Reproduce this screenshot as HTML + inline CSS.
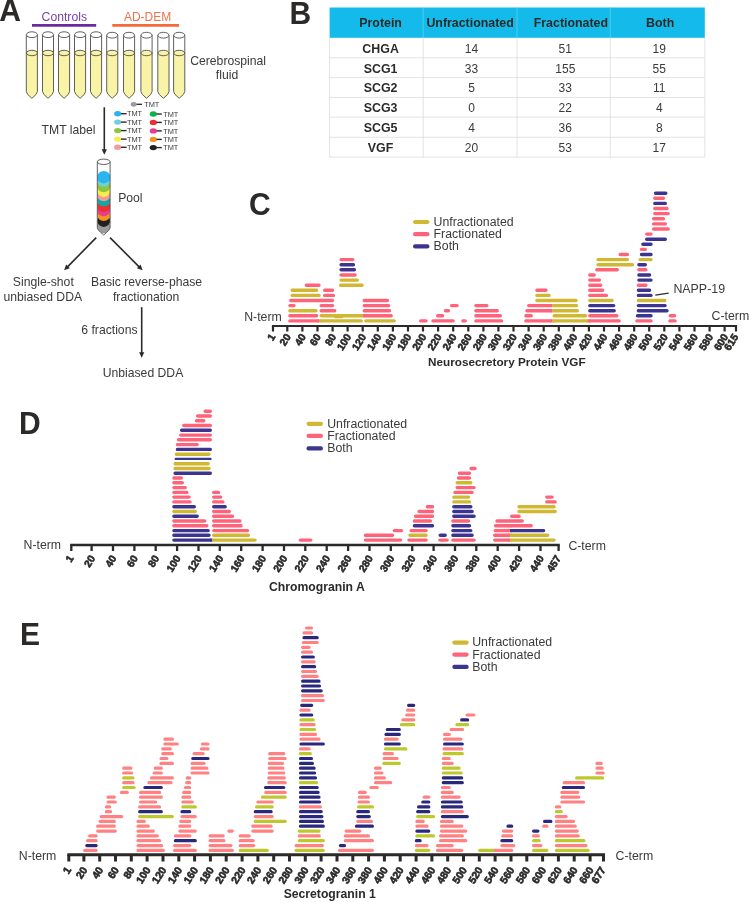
<!DOCTYPE html>
<html lang="en"><head><meta charset="utf-8"><title>Figure</title>
<style>html,body{margin:0;padding:0;background:#fff}body{width:749px;height:902px;overflow:hidden}svg{display:block}text{font-family:"Liberation Sans", Arial, Helvetica, sans-serif}</style>
</head><body>
<svg width="749" height="902" viewBox="0 0 749 902">
<rect width="749" height="902" fill="#fff"/>
<g font-weight="bold" font-size="31" fill="#2b2a29">
<text transform="translate(-0.8 21.2) scale(0.97 1)">A</text>
<text transform="translate(289.5 24.4) scale(0.97 1)">B</text>
<text transform="translate(249.0 215.0) scale(0.97 1)">C</text>
<text transform="translate(18.9 433.6) scale(0.97 1)">D</text>
<text transform="translate(20.1 644.7) scale(0.97 1)">E</text>
</g>
<g font-size="12.2">
<text x="41.6" y="21.2" fill="#7B3FA8">Controls</text>
<text x="123.9" y="21.2" font-size="12" fill="#F37048">AD-DEM</text>
</g>
<path d="M32 25.3H96.2" stroke="#6A2C9C" stroke-width="2.8"/>
<path d="M112.3 25.3H179" stroke="#F7693C" stroke-width="2.8"/>
<path d="M26.3 53.0V91.5Q26.3 94.0 31.9 98.3Q37.4 94.0 37.4 91.5V53.0Z" fill="#F8F3A6"/>
<path d="M26.3 34.7V91.5Q26.3 94.0 31.9 98.3Q37.4 94.0 37.4 91.5V34.7" fill="none" stroke="#4d4d4d" stroke-width="0.9" stroke-linejoin="round"/>
<ellipse cx="31.9" cy="34.7" rx="5.5" ry="2.9" fill="#fff" stroke="#4d4d4d" stroke-width="0.9"/>
<ellipse cx="31.9" cy="53.0" rx="5.5" ry="2.7" fill="#F8F3A6" stroke="#4d4d4d" stroke-width="0.9"/>
<path d="M42.5 53.0V91.5Q42.5 94.0 48.0 98.3Q53.5 94.0 53.5 91.5V53.0Z" fill="#F8F3A6"/>
<path d="M42.5 34.7V91.5Q42.5 94.0 48.0 98.3Q53.5 94.0 53.5 91.5V34.7" fill="none" stroke="#4d4d4d" stroke-width="0.9" stroke-linejoin="round"/>
<ellipse cx="48.0" cy="34.7" rx="5.5" ry="2.9" fill="#fff" stroke="#4d4d4d" stroke-width="0.9"/>
<ellipse cx="48.0" cy="53.0" rx="5.5" ry="2.7" fill="#F8F3A6" stroke="#4d4d4d" stroke-width="0.9"/>
<path d="M58.5 53.0V91.5Q58.5 94.0 64.1 98.3Q69.6 94.0 69.6 91.5V53.0Z" fill="#F8F3A6"/>
<path d="M58.5 34.7V91.5Q58.5 94.0 64.1 98.3Q69.6 94.0 69.6 91.5V34.7" fill="none" stroke="#4d4d4d" stroke-width="0.9" stroke-linejoin="round"/>
<ellipse cx="64.1" cy="34.7" rx="5.5" ry="2.9" fill="#fff" stroke="#4d4d4d" stroke-width="0.9"/>
<ellipse cx="64.1" cy="53.0" rx="5.5" ry="2.7" fill="#F8F3A6" stroke="#4d4d4d" stroke-width="0.9"/>
<path d="M74.5 53.0V91.5Q74.5 94.0 80.1 98.3Q85.6 94.0 85.6 91.5V53.0Z" fill="#F8F3A6"/>
<path d="M74.5 34.7V91.5Q74.5 94.0 80.1 98.3Q85.6 94.0 85.6 91.5V34.7" fill="none" stroke="#4d4d4d" stroke-width="0.9" stroke-linejoin="round"/>
<ellipse cx="80.1" cy="34.7" rx="5.5" ry="2.9" fill="#fff" stroke="#4d4d4d" stroke-width="0.9"/>
<ellipse cx="80.1" cy="53.0" rx="5.5" ry="2.7" fill="#F8F3A6" stroke="#4d4d4d" stroke-width="0.9"/>
<path d="M90.5 53.0V91.5Q90.5 94.0 96.1 98.3Q101.6 94.0 101.6 91.5V53.0Z" fill="#F8F3A6"/>
<path d="M90.5 34.7V91.5Q90.5 94.0 96.1 98.3Q101.6 94.0 101.6 91.5V34.7" fill="none" stroke="#4d4d4d" stroke-width="0.9" stroke-linejoin="round"/>
<ellipse cx="96.1" cy="34.7" rx="5.5" ry="2.9" fill="#fff" stroke="#4d4d4d" stroke-width="0.9"/>
<ellipse cx="96.1" cy="53.0" rx="5.5" ry="2.7" fill="#F8F3A6" stroke="#4d4d4d" stroke-width="0.9"/>
<path d="M106.7 53.0V91.5Q106.7 94.0 112.2 98.3Q117.8 94.0 117.8 91.5V53.0Z" fill="#F8F3A6"/>
<path d="M106.7 35.2V91.5Q106.7 94.0 112.2 98.3Q117.8 94.0 117.8 91.5V35.2" fill="none" stroke="#4d4d4d" stroke-width="0.9" stroke-linejoin="round"/>
<ellipse cx="112.2" cy="35.2" rx="5.5" ry="2.9" fill="#fff" stroke="#4d4d4d" stroke-width="0.9"/>
<ellipse cx="112.2" cy="53.0" rx="5.5" ry="2.7" fill="#F8F3A6" stroke="#4d4d4d" stroke-width="0.9"/>
<path d="M123.5 53.0V91.5Q123.5 94.0 129.0 98.3Q134.6 94.0 134.6 91.5V53.0Z" fill="#F8F3A6"/>
<path d="M123.5 35.2V91.5Q123.5 94.0 129.0 98.3Q134.6 94.0 134.6 91.5V35.2" fill="none" stroke="#4d4d4d" stroke-width="0.9" stroke-linejoin="round"/>
<ellipse cx="129.0" cy="35.2" rx="5.5" ry="2.9" fill="#fff" stroke="#4d4d4d" stroke-width="0.9"/>
<ellipse cx="129.0" cy="53.0" rx="5.5" ry="2.7" fill="#F8F3A6" stroke="#4d4d4d" stroke-width="0.9"/>
<path d="M140.9 53.0V91.5Q140.9 94.0 146.5 98.3Q152.1 94.0 152.1 91.5V53.0Z" fill="#F8F3A6"/>
<path d="M140.9 35.2V91.5Q140.9 94.0 146.5 98.3Q152.1 94.0 152.1 91.5V35.2" fill="none" stroke="#4d4d4d" stroke-width="0.9" stroke-linejoin="round"/>
<ellipse cx="146.5" cy="35.2" rx="5.5" ry="2.9" fill="#fff" stroke="#4d4d4d" stroke-width="0.9"/>
<ellipse cx="146.5" cy="53.0" rx="5.5" ry="2.7" fill="#F8F3A6" stroke="#4d4d4d" stroke-width="0.9"/>
<path d="M157.8 53.0V91.5Q157.8 94.0 163.4 98.3Q169.0 94.0 169.0 91.5V53.0Z" fill="#F8F3A6"/>
<path d="M157.8 35.2V91.5Q157.8 94.0 163.4 98.3Q169.0 94.0 169.0 91.5V35.2" fill="none" stroke="#4d4d4d" stroke-width="0.9" stroke-linejoin="round"/>
<ellipse cx="163.4" cy="35.2" rx="5.5" ry="2.9" fill="#fff" stroke="#4d4d4d" stroke-width="0.9"/>
<ellipse cx="163.4" cy="53.0" rx="5.5" ry="2.7" fill="#F8F3A6" stroke="#4d4d4d" stroke-width="0.9"/>
<path d="M173.6 53.0V91.5Q173.6 94.0 179.2 98.3Q184.8 94.0 184.8 91.5V53.0Z" fill="#F8F3A6"/>
<path d="M173.6 35.2V91.5Q173.6 94.0 179.2 98.3Q184.8 94.0 184.8 91.5V35.2" fill="none" stroke="#4d4d4d" stroke-width="0.9" stroke-linejoin="round"/>
<ellipse cx="179.2" cy="35.2" rx="5.5" ry="2.9" fill="#fff" stroke="#4d4d4d" stroke-width="0.9"/>
<ellipse cx="179.2" cy="53.0" rx="5.5" ry="2.7" fill="#F8F3A6" stroke="#4d4d4d" stroke-width="0.9"/>
<g font-size="12.2" fill="#3b3a3a">
<text x="190.2" y="65.3">Cerebrospinal</text>
<text x="215.8" y="79.3">fluid</text>
<text x="41.6" y="133.8">TMT label</text>
<text x="118.2" y="201.9">Pool</text>
<text x="43.3" y="285.7" text-anchor="middle">Single-shot</text>
<text x="42.8" y="300.8" text-anchor="middle">unbiased DDA</text>
<text x="146.6" y="285.7" text-anchor="middle">Basic reverse-phase</text>
<text x="146.2" y="300.8" text-anchor="middle">fractionation</text>
<text x="81.3" y="333.8">6 fractions</text>
<text x="143" y="377" text-anchor="middle">Unbiased DDA</text>
</g>
<path d="M104.3 107.3L104.3 150.3" stroke="#2b2a29" stroke-width="1.6"/>
<path d="M104.3 154.8L101.7 149.3L106.9 149.3Z" fill="#2b2a29"/>
<path d="M96.2 237.6L67.3 267.1" stroke="#2b2a29" stroke-width="1.6"/>
<path d="M64.1 270.3L66.1 264.6L69.8 268.2Z" fill="#2b2a29"/>
<path d="M110.0 237.6L139.4 267.1" stroke="#2b2a29" stroke-width="1.6"/>
<path d="M142.6 270.3L136.9 268.2L140.6 264.6Z" fill="#2b2a29"/>
<path d="M141.7 307.2L141.7 353.3" stroke="#2b2a29" stroke-width="1.6"/>
<path d="M141.7 357.8L139.1 352.3L144.3 352.3Z" fill="#2b2a29"/>
<ellipse cx="133.7" cy="104.3" rx="3" ry="2.4" fill="#9B9B9B"/>
<path d="M136.5 104.3H142" stroke="#2b2a29" stroke-width="1.3"/>
<g font-size="7.4" fill="#3b3a3a">
<text x="144.2" y="106.9">TMT</text>
<ellipse cx="117.7" cy="113.7" rx="3.6" ry="2.7" fill="#29B6F0"/>
<path d="M121 113.7H126.6" stroke="#2b2a29" stroke-width="1.4"/>
<text x="126.9" y="116.3">TMT</text>
<ellipse cx="117.7" cy="122.1" rx="3.6" ry="2.7" fill="#6FD0D8"/>
<path d="M121 122.1H126.6" stroke="#2b2a29" stroke-width="1.4"/>
<text x="126.9" y="124.7">TMT</text>
<ellipse cx="117.7" cy="130.6" rx="3.6" ry="2.7" fill="#8CC63F"/>
<path d="M121 130.6H126.6" stroke="#2b2a29" stroke-width="1.4"/>
<text x="126.9" y="133.2">TMT</text>
<ellipse cx="117.7" cy="139.1" rx="3.6" ry="2.7" fill="#F9ED4B"/>
<path d="M121 139.1H126.6" stroke="#2b2a29" stroke-width="1.4"/>
<text x="126.9" y="141.7">TMT</text>
<ellipse cx="117.7" cy="147.3" rx="3.6" ry="2.7" fill="#F59A9B"/>
<path d="M121 147.3H126.6" stroke="#2b2a29" stroke-width="1.4"/>
<text x="126.9" y="149.9">TMT</text>
<ellipse cx="153.3" cy="114.0" rx="3.6" ry="2.7" fill="#0DB14B"/>
<path d="M156.5 114.0H161.8" stroke="#2b2a29" stroke-width="1.4"/>
<text x="163.2" y="116.6">TMT</text>
<ellipse cx="153.3" cy="122.4" rx="3.6" ry="2.7" fill="#EE2E2F"/>
<path d="M156.5 122.4H161.8" stroke="#2b2a29" stroke-width="1.4"/>
<text x="163.2" y="125.0">TMT</text>
<ellipse cx="153.3" cy="130.9" rx="3.6" ry="2.7" fill="#EC3A8E"/>
<path d="M156.5 130.9H161.8" stroke="#2b2a29" stroke-width="1.4"/>
<text x="163.2" y="133.5">TMT</text>
<ellipse cx="153.3" cy="139.4" rx="3.6" ry="2.7" fill="#F7941D"/>
<path d="M156.5 139.4H161.8" stroke="#2b2a29" stroke-width="1.4"/>
<text x="163.2" y="142.0">TMT</text>
<ellipse cx="153.3" cy="147.6" rx="3.6" ry="2.7" fill="#231F20"/>
<path d="M156.5 147.6H161.8" stroke="#2b2a29" stroke-width="1.4"/>
<text x="163.2" y="150.2">TMT</text>
</g>
<clipPath id="pc"><path d="M97.3 161.8V227.5Q97.3 230 103.7 234.9Q110.1 230 110.1 227.5V161.8Z"/></clipPath>
<g clip-path="url(#pc)">
<ellipse cx="103.7" cy="227" rx="6.6" ry="6.3" fill="#9B9B9B"/>
<ellipse cx="103.7" cy="220.7" rx="6.6" ry="6.2" fill="#231F20"/>
<ellipse cx="103.7" cy="214.8" rx="6.6" ry="6.2" fill="#F7941D"/>
<ellipse cx="103.7" cy="210.0" rx="6.6" ry="6.2" fill="#EC3A8E"/>
<ellipse cx="103.7" cy="205.8" rx="6.6" ry="6.2" fill="#EE2E2F"/>
<ellipse cx="103.7" cy="200.4" rx="6.6" ry="6.2" fill="#12A89D"/>
<ellipse cx="103.7" cy="195.1" rx="6.6" ry="6.2" fill="#F59A9B"/>
<ellipse cx="103.7" cy="190.8" rx="6.6" ry="6.2" fill="#F9ED4B"/>
<ellipse cx="103.7" cy="186.0" rx="6.6" ry="6.2" fill="#8CC63F"/>
<ellipse cx="103.7" cy="180.7" rx="6.6" ry="6.2" fill="#6FD0D8"/>
<ellipse cx="103.7" cy="177.2" rx="6.6" ry="6.2" fill="#29B6F0"/>
</g>
<path d="M97.3 161.8V227.5Q97.3 230 103.7 234.9Q110.1 230 110.1 227.5V161.8" fill="none" stroke="#4d4d4d" stroke-width="0.9" stroke-linejoin="round"/>
<ellipse cx="103.7" cy="161.8" rx="6.4" ry="2.7" fill="#fff" stroke="#4d4d4d" stroke-width="0.9"/>
<rect x="329.6" y="7.5" width="375.2" height="30.3" fill="#14BBEA"/>
<path d="M423.2 7.5V37.8M517.0 7.5V37.8M610.3 7.5V37.8" stroke="#5CCFF0" stroke-width="0.8"/>
<path d="M329.6 57.8H704.8M329.6 77.6H704.8M329.6 97.4H704.8M329.6 117.2H704.8M329.6 137.3H704.8M329.6 157.1H704.8M329.6 37.8V157.1M423.2 37.8V157.1M517.0 37.8V157.1M610.3 37.8V157.1M704.8 37.8V157.1" stroke="#DADCDD" stroke-width="0.8" fill="none"/>
<g font-size="12.4" text-anchor="middle" fill="#2b2a29">
<g font-weight="bold">
<text x="380.6" y="26.8">Protein</text>
<text x="470.1" y="26.8">Unfractionated</text>
<text x="570.9" y="26.8">Fractionated</text>
<text x="660.1" y="26.8">Both</text>
<text x="380.6" y="52.7">CHGA</text>
<text x="380.6" y="72.6">SCG1</text>
<text x="380.6" y="92.4">SCG2</text>
<text x="380.6" y="112.2">SCG3</text>
<text x="380.6" y="132.2">SCG5</text>
<text x="380.6" y="152.1">VGF</text>
</g>
<g fill="#3b3a3a" font-size="12">
<text x="471.5" y="52.7">14</text>
<text x="565.3" y="52.7">51</text>
<text x="659.3" y="52.7">19</text>
<text x="471.5" y="72.6">33</text>
<text x="565.3" y="72.6">155</text>
<text x="659.3" y="72.6">55</text>
<text x="471.5" y="92.4">5</text>
<text x="565.3" y="92.4">33</text>
<text x="659.3" y="92.4">11</text>
<text x="471.5" y="112.2">0</text>
<text x="565.3" y="112.2">22</text>
<text x="659.3" y="112.2">4</text>
<text x="471.5" y="132.2">4</text>
<text x="565.3" y="132.2">36</text>
<text x="659.3" y="132.2">8</text>
<text x="471.5" y="152.1">20</text>
<text x="565.3" y="152.1">53</text>
<text x="659.3" y="152.1">17</text>
</g></g>
<path d="M289.9 320.9H317.8M289.9 315.8H316.6M364.6 315.8H391.2M321.2 310.7H334.8M364.2 310.7H389.5M289.9 305.6H294.0M321.2 305.6H332.5M364.2 305.6H388.6M290.8 300.5H318.6M322.0 300.5H332.5M364.2 300.5H387.4M324.7 295.4H333.4M324.7 290.3H332.5M306.4 285.2H319.0M341.1 275.0H355.1M341.1 259.6H352.8M420.7 320.9H426.0M433.0 320.9H453.1M462.9 320.9H465.2M475.9 320.9H501.5M437.7 315.8H442.6M475.9 315.8H500.3M445.5 310.7H448.5M475.9 310.7H497.3M451.6 305.6H457.1M475.9 305.6H486.9M525.9 320.9H550.8M589.8 320.9H619.1M525.9 315.8H531.2M589.8 315.8H616.8M527.0 310.7H550.8M528.7 305.6H550.8M589.8 295.4H606.4M536.9 290.3H546.0M589.8 290.3H602.6M589.8 285.2H600.7M589.8 280.1H599.4M589.8 275.0H594.2M596.8 269.8H617.3M620.2 254.5H627.4M636.9 320.9H651.0M669.9 320.9H675.1M670.3 315.8H674.6M638.4 285.2H645.9M638.9 269.8H645.9M641.5 249.4H645.3M646.7 234.1H651.0M653.6 229.0H668.2M653.6 223.9H665.3M653.6 218.8H663.4M654.8 213.6H668.2M654.8 208.5H667.0M654.8 198.3H663.4" stroke="#FF6379" stroke-width="3.4" stroke-linecap="round" fill="none"/>
<path d="M321.2 320.9H361.2M365.8 320.9H394.2M321.2 315.8H361.2M289.9 310.7H316.0M292.2 295.4H319.0M292.2 290.3H316.6M340.6 285.2H362.1M341.1 280.1H357.4M554.2 320.9H586.4M554.2 315.8H585.6M554.2 310.7H577.4M554.2 305.6H576.5M536.9 300.5H576.0M589.8 300.5H612.1M536.9 295.4H549.1M598.0 264.7H632.4M598.0 259.6H627.4M638.4 300.5H664.8M640.1 259.6H651.0M335.4 316.6H342.0" stroke="#D0B832" stroke-width="3.4" stroke-linecap="round" fill="none"/>
<path d="M341.1 269.8H354.4M341.1 264.7H353.4M589.8 310.7H614.2M589.8 305.6H613.7M637.5 315.8H651.0M638.4 310.7H667.0M638.4 305.6H665.1M638.4 295.4H651.0M638.4 290.3H649.6M638.9 280.1H651.0M638.9 275.0H649.6M638.9 264.7H645.3M641.5 254.5H651.0M642.9 244.3H651.0M646.7 239.2H665.3M654.8 203.4H665.3M655.6 193.2H665.8" stroke="#3B3490" stroke-width="3.4" stroke-linecap="round" fill="none"/>
<path d="M317.6 320.9H319.5M362.9 315.8H364.8M318.4 300.5H320.3M320.3 300.5H322.2M550.6 320.9H552.5M588.1 320.9H590.0M550.6 310.7H552.5M550.6 305.6H552.5" stroke="#FF6379" stroke-width="3.4" fill="none"/>
<path d="M319.5 320.9H321.4M361.0 315.8H362.9M552.5 320.9H554.4M586.2 320.9H588.1M552.5 310.7H554.4M552.5 305.6H554.4" stroke="#D0B832" stroke-width="3.4" fill="none"/>
<path d="M271.9 325.9H737.1" stroke="#2b2a29" stroke-width="2.0" fill="none"/>
<path d="M273.0 325.9V331.6M287.3 325.9V331.6M302.4 325.9V331.6M317.5 325.9V331.6M332.6 325.9V331.6M347.6 325.9V331.6M362.7 325.9V331.6M377.8 325.9V331.6M392.9 325.9V331.6M408.0 325.9V331.6M423.0 325.9V331.6M438.1 325.9V331.6M453.2 325.9V331.6M468.3 325.9V331.6M483.4 325.9V331.6M498.4 325.9V331.6M513.5 325.9V331.6M528.6 325.9V331.6M543.7 325.9V331.6M558.8 325.9V331.6M573.8 325.9V331.6M588.9 325.9V331.6M604.0 325.9V331.6M619.1 325.9V331.6M634.2 325.9V331.6M649.2 325.9V331.6M664.3 325.9V331.6M679.4 325.9V331.6M694.5 325.9V331.6M709.6 325.9V331.6M724.6 325.9V331.6M736.0 325.9V331.6" stroke="#2b2a29" stroke-width="2.2" fill="none"/>
<g font-weight="bold" font-size="10.3" fill="#2b2a29" stroke="#2b2a29" stroke-width="0.6" stroke-linejoin="round" text-anchor="end">
<text transform="translate(275.8 336.7) rotate(-58)">1</text>
<text transform="translate(291.2 336.7) rotate(-58)">20</text>
<text transform="translate(306.3 336.7) rotate(-58)">40</text>
<text transform="translate(321.4 336.7) rotate(-58)">60</text>
<text transform="translate(336.5 336.7) rotate(-58)">80</text>
<text transform="translate(351.5 336.7) rotate(-58)">100</text>
<text transform="translate(366.6 336.7) rotate(-58)">120</text>
<text transform="translate(381.7 336.7) rotate(-58)">140</text>
<text transform="translate(396.8 336.7) rotate(-58)">160</text>
<text transform="translate(411.9 336.7) rotate(-58)">180</text>
<text transform="translate(426.9 336.7) rotate(-58)">200</text>
<text transform="translate(442.0 336.7) rotate(-58)">220</text>
<text transform="translate(457.1 336.7) rotate(-58)">240</text>
<text transform="translate(472.2 336.7) rotate(-58)">260</text>
<text transform="translate(487.3 336.7) rotate(-58)">280</text>
<text transform="translate(502.3 336.7) rotate(-58)">300</text>
<text transform="translate(517.4 336.7) rotate(-58)">320</text>
<text transform="translate(532.5 336.7) rotate(-58)">340</text>
<text transform="translate(547.6 336.7) rotate(-58)">360</text>
<text transform="translate(562.7 336.7) rotate(-58)">380</text>
<text transform="translate(577.7 336.7) rotate(-58)">400</text>
<text transform="translate(592.8 336.7) rotate(-58)">420</text>
<text transform="translate(607.9 336.7) rotate(-58)">440</text>
<text transform="translate(623.0 336.7) rotate(-58)">460</text>
<text transform="translate(638.1 336.7) rotate(-58)">480</text>
<text transform="translate(653.1 336.7) rotate(-58)">500</text>
<text transform="translate(668.2 336.7) rotate(-58)">520</text>
<text transform="translate(683.3 336.7) rotate(-58)">540</text>
<text transform="translate(698.4 336.7) rotate(-58)">560</text>
<text transform="translate(713.5 336.7) rotate(-58)">580</text>
<text transform="translate(728.5 336.7) rotate(-58)">600</text>
<text transform="translate(738.7 336.7) rotate(-58)">615</text>
</g>
<g font-size="12.3" fill="#3b3a3a">
<text x="244.2" y="320.7">N-term</text>
<text x="711.6" y="320.3">C-term</text>
<text x="673.4" y="292.6" font-size="12.4">NAPP-19</text>
</g>
<path d="M655.3 295.2L668.7 293.2" stroke="#2b2a29" stroke-width="1.2"/>
<text x="506.85" y="365.7" font-size="11.72" font-weight="bold" text-anchor="middle" fill="#2b2a29">Neurosecretory Protein VGF</text>
<path d="M173.9 540.1H210.3M173.9 535.3H209.0M173.9 530.6H208.2M173.9 516.2H197.2M173.9 506.7H194.3M213.7 506.7H225.2M175.1 473.2H210.3M177.4 449.4H210.3M181.6 430.3H210.3M440.2 535.3H445.2M452.9 535.3H472.1M452.9 530.6H470.8M414.4 525.8H432.5M452.9 525.8H469.5M453.8 516.2H474.1M453.8 511.5H472.1M453.8 506.7H470.8M511.7 530.6H543.7" stroke="#3B3490" stroke-width="3.4" stroke-linecap="round" fill="none"/>
<path d="M213.7 540.1H255.0M213.7 535.3H248.4M173.9 511.5H195.2M175.1 468.5H209.0M175.1 463.7H208.2M176.3 454.2H209.0M410.0 535.3H426.1M453.8 501.9H469.5M453.8 497.1H468.6M457.2 482.8H470.8M511.7 540.1H554.1M511.7 535.3H547.7M519.0 511.5H555.2M519.0 506.7H554.1" stroke="#D0B832" stroke-width="3.4" stroke-linecap="round" fill="none"/>
<path d="M213.7 530.6H247.6M173.9 525.8H206.8M213.7 525.8H241.1M173.9 521.0H204.7M213.7 521.0H239.9M213.7 516.2H232.5M213.7 511.5H229.3M173.9 501.9H190.0M213.7 501.9H222.9M173.9 497.1H189.1M213.7 497.1H220.7M173.9 492.4H186.8M213.7 492.4H218.6M173.9 487.6H185.3M173.9 482.8H182.3M173.9 478.0H181.3M177.4 444.6H197.2M178.6 439.8H210.3M180.7 435.1H210.3M183.8 425.5H210.3M196.5 420.7H203.8M197.7 416.0H210.3M205.2 411.2H210.3M300.3 540.1H310.8M365.4 540.1H400.5M365.4 535.3H392.5M394.3 530.6H401.5M409.0 540.1H426.1M439.9 540.1H447.2M452.9 540.1H474.1M411.2 530.6H426.1M414.4 521.0H430.4M452.9 521.0H468.6M415.6 516.2H432.5M419.1 511.5H432.5M427.4 506.7H432.5M455.0 492.4H472.1M457.2 487.6H474.1M458.5 478.0H469.5M459.5 473.2H469.5M471.1 468.5H475.0M494.7 540.1H508.3M494.7 535.3H508.3M495.2 530.6H508.3M495.6 525.8H508.3M511.7 525.8H531.2M497.0 521.0H522.2M511.7 516.2H519.1M546.8 501.9H555.2M546.8 497.1H552.1" stroke="#FF6379" stroke-width="3.4" stroke-linecap="round" fill="none"/>
<path d="M175.8 458.9H210.4" stroke="#3B3490" stroke-width="2.4" stroke-linecap="round" fill="none"/>
<path d="M210.1 540.1H212.0M510.0 530.6H511.9" stroke="#3B3490" stroke-width="3.4" fill="none"/>
<path d="M212.0 540.1H213.9M510.0 540.1H511.9M510.0 535.3H511.9" stroke="#D0B832" stroke-width="3.4" fill="none"/>
<path d="M508.1 540.1H510.0M508.1 535.3H510.0M508.1 530.6H510.0M508.1 525.8H510.0M510.0 525.8H511.9" stroke="#FF6379" stroke-width="3.4" fill="none"/>
<path d="M70.1 545.0H559.8" stroke="#2b2a29" stroke-width="2.3" fill="none"/>
<path d="M71.3 545.0V550.9M91.6 545.0V550.9M113.0 545.0V550.9M134.4 545.0V550.9M155.7 545.0V550.9M177.1 545.0V550.9M198.5 545.0V550.9M219.8 545.0V550.9M241.2 545.0V550.9M262.6 545.0V550.9M284.0 545.0V550.9M305.3 545.0V550.9M326.7 545.0V550.9M348.1 545.0V550.9M369.5 545.0V550.9M390.8 545.0V550.9M412.2 545.0V550.9M433.6 545.0V550.9M455.0 545.0V550.9M476.3 545.0V550.9M497.7 545.0V550.9M519.1 545.0V550.9M540.5 545.0V550.9M558.6 545.0V550.9" stroke="#2b2a29" stroke-width="2.3" fill="none"/>
<g font-weight="bold" font-size="10.3" fill="#2b2a29" stroke="#2b2a29" stroke-width="0.6" stroke-linejoin="round" text-anchor="end">
<text transform="translate(74.1 558.2) rotate(-58)">1</text>
<text transform="translate(95.5 558.2) rotate(-58)">20</text>
<text transform="translate(116.9 558.2) rotate(-58)">40</text>
<text transform="translate(138.3 558.2) rotate(-58)">60</text>
<text transform="translate(159.6 558.2) rotate(-58)">80</text>
<text transform="translate(181.0 558.2) rotate(-58)">100</text>
<text transform="translate(202.4 558.2) rotate(-58)">120</text>
<text transform="translate(223.7 558.2) rotate(-58)">140</text>
<text transform="translate(245.1 558.2) rotate(-58)">160</text>
<text transform="translate(266.5 558.2) rotate(-58)">180</text>
<text transform="translate(287.9 558.2) rotate(-58)">200</text>
<text transform="translate(309.2 558.2) rotate(-58)">220</text>
<text transform="translate(330.6 558.2) rotate(-58)">240</text>
<text transform="translate(352.0 558.2) rotate(-58)">260</text>
<text transform="translate(373.4 558.2) rotate(-58)">280</text>
<text transform="translate(394.7 558.2) rotate(-58)">300</text>
<text transform="translate(416.1 558.2) rotate(-58)">320</text>
<text transform="translate(437.5 558.2) rotate(-58)">340</text>
<text transform="translate(458.9 558.2) rotate(-58)">360</text>
<text transform="translate(480.2 558.2) rotate(-58)">380</text>
<text transform="translate(501.6 558.2) rotate(-58)">400</text>
<text transform="translate(523.0 558.2) rotate(-58)">420</text>
<text transform="translate(544.4 558.2) rotate(-58)">440</text>
<text transform="translate(561.3 558.2) rotate(-58)">457</text>
</g>
<g font-size="12.3" fill="#3b3a3a">
<text x="23.5" y="549.2">N-term</text>
<text x="568.4" y="549.5">C-term</text>
</g>
<text x="316.9" y="590.9" font-size="12.2" font-weight="bold" text-anchor="middle" fill="#2b2a29">Chromogranin A</text>
<path d="M84.7 850.4H96.1M138.0 850.4H163.4M138.0 845.6H161.7M87.6 840.7H96.1M138.0 840.7H159.6M89.7 835.9H96.1M138.0 835.9H157.3M97.7 831.1H115.3M138.0 831.1H153.3M97.7 826.2H114.3M138.0 826.2H148.3M100.1 821.4H114.3M138.0 821.4H144.3M101.2 816.6H121.7M106.4 811.7H110.5M106.4 806.9H109.6M139.7 806.9H159.6M108.1 802.0H115.3M140.6 802.0H155.6M108.1 797.2H114.3M140.6 797.2H161.3M121.5 792.4H127.3M140.6 792.4H159.6M123.7 782.7H133.0M148.9 782.7H170.9M151.5 777.9H172.4M123.7 773.0H131.6M154.1 773.0H161.3M123.7 768.2H130.9M155.3 768.2H161.3M161.0 763.4H172.4M161.0 758.5H166.9M162.8 753.7H172.4M162.8 748.9H170.3M164.9 744.0H177.3M164.9 739.2H172.4M174.6 850.4H195.3M210.1 850.4H232.3M174.6 845.6H189.7M210.1 845.6H230.9M240.2 845.6H253.8M210.1 840.7H223.9M240.2 840.7H253.1M175.4 835.9H189.7M210.1 835.9H223.1M240.2 835.9H249.1M179.9 831.1H195.3M228.9 831.1H232.3M252.8 831.1H272.2M179.9 826.2H189.7M252.8 826.2H271.1M180.8 821.4H189.7M182.0 816.6H195.3M255.3 816.6H272.2M182.9 802.0H192.2M257.9 802.0H272.2M182.9 797.2H189.7M183.7 792.4H189.7M265.8 792.4H285.2M185.5 787.5H189.7M186.7 782.7H189.7M268.8 782.7H285.2M187.2 777.9H189.7M268.8 777.9H284.3M192.1 773.0H208.0M269.3 773.0H283.8M192.1 768.2H206.9M269.3 768.2H282.9M192.1 763.4H204.0M269.3 763.4H282.4M269.7 758.5H285.2M194.2 753.7H203.1M269.7 753.7H283.8M201.5 748.9H208.0M202.3 744.0H208.0M339.5 850.4H372.4M296.1 845.6H322.4M345.3 840.7H372.4M299.3 835.9H319.3M345.3 835.9H368.4M346.1 831.1H359.8M357.8 821.4H371.4M300.5 806.9H320.4M359.1 802.0H368.4M359.5 797.2H368.4M359.5 792.4H365.3M370.8 787.5H377.3M375.5 782.7H390.7M375.5 777.9H384.4M375.5 773.0H382.0M375.5 768.2H380.2M384.1 758.5H397.1M384.1 753.7H392.4M300.5 748.9H309.1M301.0 739.2H319.0M385.5 739.2H397.1M301.0 734.4H315.5M301.0 724.7H314.1M402.9 719.9H413.7M406.7 715.0H413.7M301.0 710.2H309.1M407.6 710.2H413.7M302.6 700.5H323.3M302.6 695.7H322.4M302.6 676.3H317.2M302.6 671.5H315.5M302.6 661.8H314.1M302.6 652.2H311.5M302.6 647.3H309.1M303.4 642.5H317.2M304.0 632.8H311.5M306.6 628.0H311.5M437.5 850.4H461.7M495.7 850.4H511.7M416.4 845.6H427.0M437.5 845.6H452.2M501.9 845.6H513.8M440.6 840.7H465.7M440.6 835.9H462.3M502.8 835.9H511.7M441.5 831.1H465.7M503.5 831.1H511.7M416.9 826.2H427.0M441.5 826.2H461.7M416.9 821.4H423.2M441.5 821.4H452.2M442.4 811.7H462.3M424.2 797.2H428.8M442.4 797.2H459.1M442.4 792.4H452.2M442.4 787.5H449.3M443.3 763.4H452.2M443.3 758.5H449.3M444.1 748.9H461.7M444.6 739.2H460.9M444.6 734.4H449.3M451.1 729.5H462.6M467.0 715.0H473.8M533.6 845.6H540.9M556.4 845.6H586.0M533.6 835.9H538.3M556.4 835.9H578.2M556.4 831.1H577.3M543.7 826.2H546.9M556.4 826.2H575.2M556.4 821.4H573.5M556.4 816.6H566.2M556.4 806.9H559.8M561.9 802.0H583.5M561.9 797.2H578.7M561.9 792.4H577.8M564.2 782.7H583.5M597.0 773.0H603.2M597.0 768.2H602.1M597.0 763.4H601.2" stroke="#FF8182" stroke-width="3.2" stroke-linecap="round" fill="none"/>
<path d="M86.8 845.6H96.1M139.7 811.7H161.3M144.9 787.5H161.3M175.4 840.7H195.3M182.0 811.7H189.7M255.3 811.7H271.1M265.5 787.5H283.8M192.8 758.5H208.0M340.4 845.6H344.5M300.5 826.2H323.3M356.5 826.2H372.4M300.5 821.4H322.4M300.5 816.6H321.9M357.8 816.6H369.3M300.5 811.7H321.2M357.8 811.7H368.4M300.5 802.0H319.5M300.5 797.2H319.0M300.5 792.4H318.1M300.5 787.5H317.2M300.5 777.9H315.5M300.5 773.0H314.6M300.5 768.2H314.1M300.5 763.4H312.4M300.5 758.5H311.5M301.0 744.0H323.3M385.5 744.0H399.3M386.0 734.4H399.3M387.3 729.5H399.3M301.0 715.0H311.7M301.7 705.3H311.7M408.6 705.3H413.7M302.6 690.8H321.2M302.6 686.0H319.5M302.6 681.2H319.0M302.6 666.7H314.6M302.6 657.0H313.3M304.0 637.7H317.2M416.4 840.7H420.1M501.9 840.7H511.7M416.9 831.1H428.8M508.0 826.2H511.7M442.4 816.6H467.3M417.7 811.7H428.8M418.6 806.9H428.8M442.4 806.9H461.7M422.8 802.0H428.8M442.4 802.0H461.2M443.3 782.7H462.3M443.3 777.9H461.7M444.6 744.0H462.3M461.7 719.9H467.6M533.6 831.1H537.9M544.6 821.4H550.9M563.3 787.5H583.5" stroke="#28287D" stroke-width="3.2" stroke-linecap="round" fill="none"/>
<path d="M139.7 816.6H172.4M123.7 787.5H134.2M123.7 777.9H133.0M240.2 850.4H267.3M255.3 821.4H285.2M182.9 806.9H195.3M256.6 806.9H272.2M262.4 797.2H285.2M296.1 850.4H323.3M299.3 840.7H323.3M299.3 831.1H319.0M358.6 806.9H372.4M300.5 782.7H316.4M383.8 763.4H399.3M300.5 753.7H310.3M385.5 748.9H405.8M301.0 729.5H314.6M401.5 724.7H413.7M301.0 719.9H313.3M416.4 850.4H428.8M479.7 850.4H492.5M416.9 835.9H433.5M417.7 816.6H433.5M443.3 773.0H461.2M443.3 768.2H459.1M444.1 753.7H462.3M456.9 724.7H467.6M533.6 850.4H546.9M556.4 850.4H588.2M533.6 840.7H539.1M556.4 840.7H583.9M556.4 811.7H561.3M576.7 777.9H602.6" stroke="#BEC82C" stroke-width="3.2" stroke-linecap="round" fill="none"/>
<path d="M492.3 850.4H494.1" stroke="#BEC82C" stroke-width="3.2" fill="none"/>
<path d="M494.1 850.4H495.9" stroke="#FF8182" stroke-width="3.2" fill="none"/>
<path d="M67.3 854.8H605.0" stroke="#2b2a29" stroke-width="3.1" fill="none"/>
<path d="M68.8 854.8V861.4M83.9 854.8V861.4M99.7 854.8V861.4M115.5 854.8V861.4M131.3 854.8V861.4M147.1 854.8V861.4M163.0 854.8V861.4M178.8 854.8V861.4M194.6 854.8V861.4M210.4 854.8V861.4M226.2 854.8V861.4M242.1 854.8V861.4M257.9 854.8V861.4M273.7 854.8V861.4M289.5 854.8V861.4M305.3 854.8V861.4M321.1 854.8V861.4M337.0 854.8V861.4M352.8 854.8V861.4M368.6 854.8V861.4M384.4 854.8V861.4M400.2 854.8V861.4M416.1 854.8V861.4M431.9 854.8V861.4M447.7 854.8V861.4M463.5 854.8V861.4M479.3 854.8V861.4M495.1 854.8V861.4M511.0 854.8V861.4M526.8 854.8V861.4M542.6 854.8V861.4M558.4 854.8V861.4M574.2 854.8V861.4M590.1 854.8V861.4M603.5 854.8V861.4" stroke="#2b2a29" stroke-width="3.0" fill="none"/>
<g font-weight="bold" font-size="10.5" fill="#2b2a29" stroke="#2b2a29" stroke-width="0.6" stroke-linejoin="round" text-anchor="end">
<text transform="translate(71.7 869.7) rotate(-58)">1</text>
<text transform="translate(87.8 869.7) rotate(-58)">20</text>
<text transform="translate(103.6 869.7) rotate(-58)">40</text>
<text transform="translate(119.4 869.7) rotate(-58)">60</text>
<text transform="translate(135.2 869.7) rotate(-58)">80</text>
<text transform="translate(151.0 869.7) rotate(-58)">100</text>
<text transform="translate(166.9 869.7) rotate(-58)">120</text>
<text transform="translate(182.7 869.7) rotate(-58)">140</text>
<text transform="translate(198.5 869.7) rotate(-58)">160</text>
<text transform="translate(214.3 869.7) rotate(-58)">180</text>
<text transform="translate(230.1 869.7) rotate(-58)">200</text>
<text transform="translate(246.0 869.7) rotate(-58)">220</text>
<text transform="translate(261.8 869.7) rotate(-58)">240</text>
<text transform="translate(277.6 869.7) rotate(-58)">260</text>
<text transform="translate(293.4 869.7) rotate(-58)">280</text>
<text transform="translate(309.2 869.7) rotate(-58)">300</text>
<text transform="translate(325.0 869.7) rotate(-58)">320</text>
<text transform="translate(340.9 869.7) rotate(-58)">340</text>
<text transform="translate(356.7 869.7) rotate(-58)">360</text>
<text transform="translate(372.5 869.7) rotate(-58)">380</text>
<text transform="translate(388.3 869.7) rotate(-58)">400</text>
<text transform="translate(404.1 869.7) rotate(-58)">420</text>
<text transform="translate(420.0 869.7) rotate(-58)">440</text>
<text transform="translate(435.8 869.7) rotate(-58)">460</text>
<text transform="translate(451.6 869.7) rotate(-58)">480</text>
<text transform="translate(467.4 869.7) rotate(-58)">500</text>
<text transform="translate(483.2 869.7) rotate(-58)">520</text>
<text transform="translate(499.0 869.7) rotate(-58)">540</text>
<text transform="translate(514.9 869.7) rotate(-58)">560</text>
<text transform="translate(530.7 869.7) rotate(-58)">580</text>
<text transform="translate(546.5 869.7) rotate(-58)">600</text>
<text transform="translate(562.3 869.7) rotate(-58)">620</text>
<text transform="translate(578.1 869.7) rotate(-58)">640</text>
<text transform="translate(594.0 869.7) rotate(-58)">660</text>
<text transform="translate(606.2 869.7) rotate(-58)">677</text>
</g>
<g font-size="12.3" fill="#3b3a3a">
<text x="18.8" y="860.3">N-term</text>
<text x="615.6" y="860.2">C-term</text>
</g>
<text x="329.7" y="898.4" font-size="12.2" font-weight="bold" text-anchor="middle" fill="#2b2a29">Secretogranin 1</text>
<path d="M415.1 222.0H427.4" stroke="#D0B832" stroke-width="4.2" stroke-linecap="round"/>
<path d="M415.1 234.2H427.4" stroke="#FF6379" stroke-width="4.2" stroke-linecap="round"/>
<path d="M415.1 246.4H427.4" stroke="#3B3490" stroke-width="4.2" stroke-linecap="round"/>
<g font-size="12.3" fill="#3b3a3a">
<text x="433.6" y="225.7">Unfractionated</text>
<text x="433.6" y="237.9">Fractionated</text>
<text x="433.6" y="250.1">Both</text>
</g>
<path d="M308.6 423.8H320.9" stroke="#D0B832" stroke-width="4.2" stroke-linecap="round"/>
<path d="M308.6 435.9H320.9" stroke="#FF6379" stroke-width="4.2" stroke-linecap="round"/>
<path d="M308.6 448.4H320.9" stroke="#3B3490" stroke-width="4.2" stroke-linecap="round"/>
<g font-size="12.3" fill="#3b3a3a">
<text x="327.2" y="427.8">Unfractionated</text>
<text x="327.2" y="440.0">Fractionated</text>
<text x="327.2" y="452.2">Both</text>
</g>
<path d="M454.4 642.6H466.6" stroke="#D0B832" stroke-width="4.2" stroke-linecap="round"/>
<path d="M454.4 654.6H466.6" stroke="#FF6379" stroke-width="4.2" stroke-linecap="round"/>
<path d="M454.4 666.9H466.6" stroke="#3B3490" stroke-width="4.2" stroke-linecap="round"/>
<g font-size="12.3" fill="#3b3a3a">
<text x="472.2" y="646.3">Unfractionated</text>
<text x="472.2" y="658.5">Fractionated</text>
<text x="472.2" y="670.7">Both</text>
</g>
</svg></body></html>
